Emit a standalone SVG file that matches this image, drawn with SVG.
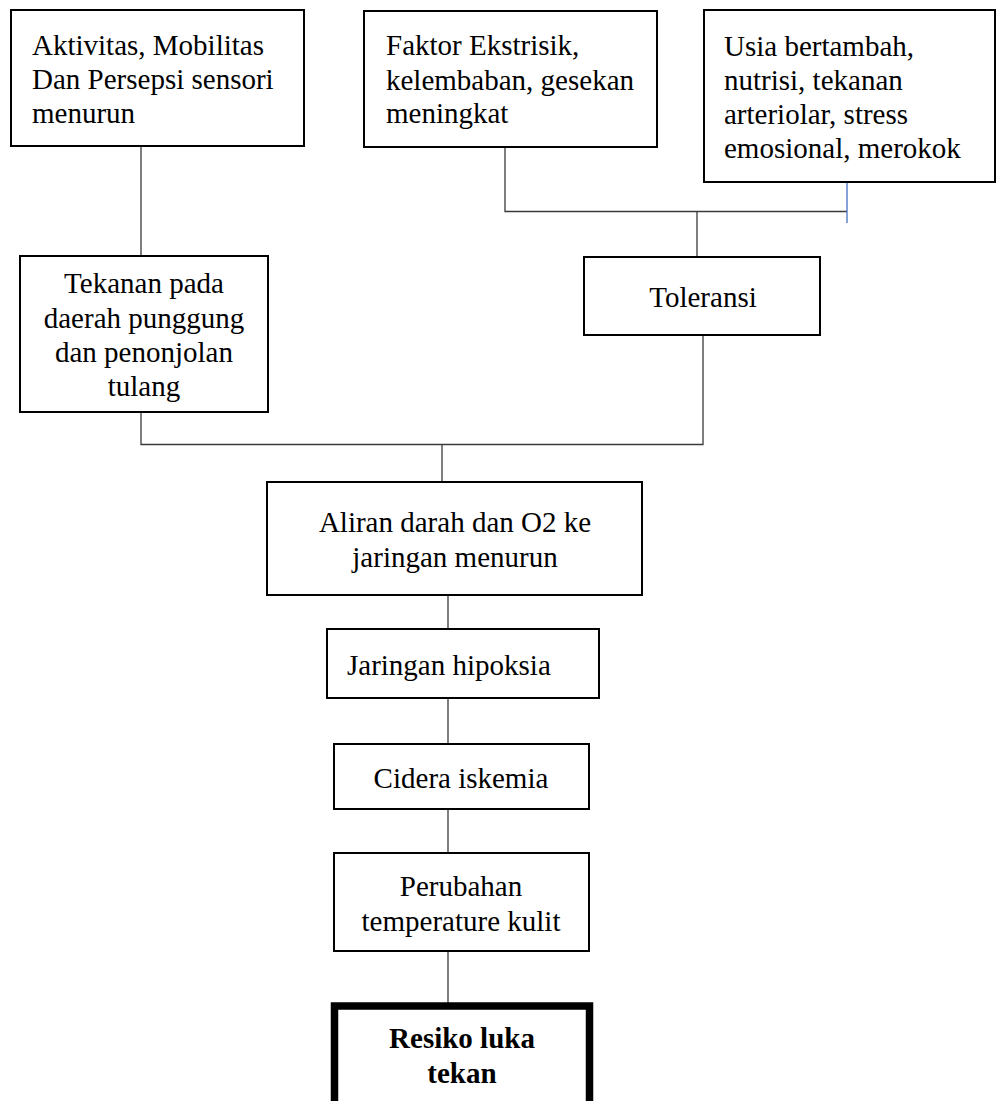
<svg xmlns="http://www.w3.org/2000/svg" width="996" height="1101" viewBox="0 0 996 1101">
<style>
.box{fill:#fff;stroke:#000;stroke-width:2}
.bold{fill:#fff;stroke:#000;stroke-width:7.5}
.t{font-family:"Liberation Serif","Times New Roman",serif;font-size:29px;fill:#000}
.c{text-anchor:middle}
.b{font-weight:bold}
.ln{stroke:#3a3a3a;stroke-width:1.3;fill:none}
.blue{stroke:#4472c4;stroke-width:1.3;fill:none}
</style>
<rect width="996" height="1101" fill="#fff"/>
<g id="connectors">
<polyline class="ln" points="141,146 141,256"/>
<polyline class="ln" points="505,147 505,211.5 847,211.5"/>
<polyline class="blue" points="847,182 847,223"/>
<polyline class="ln" points="697,211.5 697,257"/>
<polyline class="ln" points="141,412 141,444.5 703,444.5 703,335"/>
<polyline class="ln" points="442,444.5 442,482"/>
<polyline class="ln" points="448,595 448,629"/>
<polyline class="ln" points="448,698 448,744"/>
<polyline class="ln" points="448,809 448,853"/>
<polyline class="ln" points="448,951 448,1003"/>
</g>
<g id="n1">
<rect class="box" x="11" y="10" width="293" height="136"/>
<text class="t" x="32" y="55">Aktivitas, Mobilitas</text>
<text class="t" x="32" y="89">Dan Persepsi sensori</text>
<text class="t" x="32" y="123">menurun</text>
</g>
<g id="n2">
<rect class="box" x="364" y="11" width="293" height="136"/>
<text class="t" x="386" y="55">Faktor Ekstrisik,</text>
<text class="t" x="386" y="90">kelembaban, gesekan</text>
<text class="t" x="386" y="123">meningkat</text>
</g>
<g id="n3">
<rect class="box" x="704" y="10" width="291" height="172"/>
<text class="t" x="724" y="56">Usia bertambah,</text>
<text class="t" x="724" y="90">nutrisi, tekanan</text>
<text class="t" x="724" y="124">arteriolar, stress</text>
<text class="t" x="724" y="158">emosional, merokok</text>
</g>
<g id="n4">
<rect class="box" x="20" y="256" width="248" height="156"/>
<text class="t c" x="144" y="293">Tekanan pada</text>
<text class="t c" x="144" y="328">daerah punggung</text>
<text class="t c" x="144" y="362">dan penonjolan</text>
<text class="t c" x="144" y="396">tulang</text>
</g>
<g id="n5">
<rect class="box" x="584" y="257" width="236" height="78"/>
<text class="t c" x="703" y="307">Toleransi</text>
</g>
<g id="n6">
<rect class="box" x="267" y="482" width="375" height="113"/>
<text class="t c" x="455" y="532">Aliran darah dan O2 ke</text>
<text class="t c" x="455" y="567">jaringan menurun</text>
</g>
<g id="n7">
<rect class="box" x="327" y="629" width="272" height="69"/>
<text class="t" x="347" y="675">Jaringan hipoksia</text>
</g>
<g id="n8">
<rect class="box" x="334" y="744" width="255" height="65"/>
<text class="t c" x="461" y="788">Cidera iskemia</text>
</g>
<g id="n9">
<rect class="box" x="334" y="853" width="255" height="98"/>
<text class="t c" x="461" y="896">Perubahan</text>
<text class="t c" x="461" y="931">temperature kulit</text>
</g>
<g id="n10">
<rect class="bold" x="334.5" y="1006" width="255" height="120"/>
<text class="t c b" x="462" y="1048">Resiko luka</text>
<text class="t c b" x="462" y="1083">tekan</text>
</g>
</svg>
